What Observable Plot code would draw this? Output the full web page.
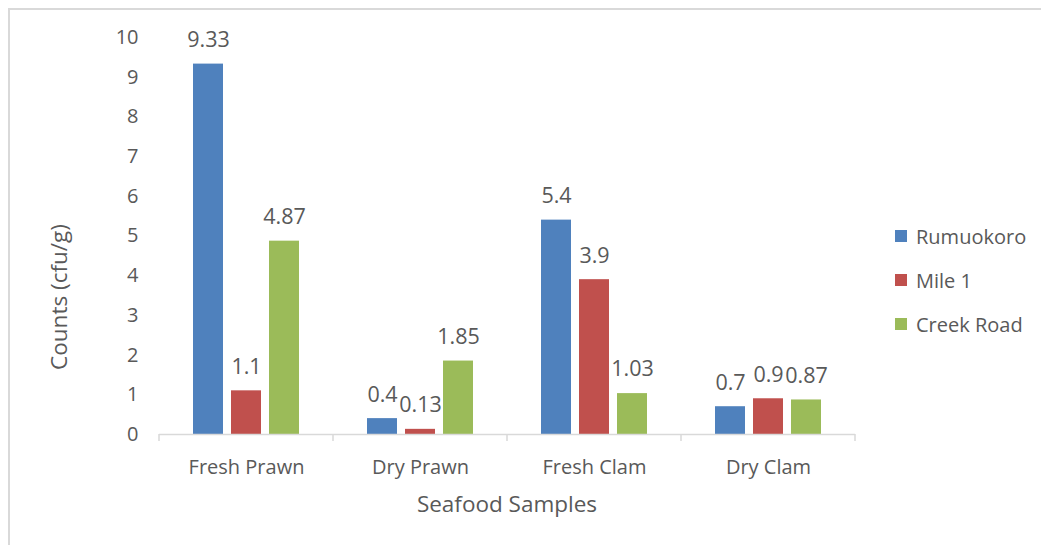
<!DOCTYPE html>
<html>
<head>
<meta charset="utf-8">
<script src="https://cdn.jsdelivr.net/npm/d3@7"></script>
<script src="https://cdn.jsdelivr.net/npm/@observablehq/plot@0.6"></script>
<style>
  html, body { margin: 0; padding: 0; background: #fff; }
  #wrap { position: relative; width: 1041px; height: 545px; overflow: hidden; font-family: "Open Sans", sans-serif; color: #595959; }
  #border { position: absolute; left: 8px; top: 8px; width: 1200px; height: 700px; border-top: 2px solid #d9d9d9; border-left: 2px solid #d9d9d9; }
  #chart { position: absolute; left: 0; top: 0; }
  .ttl { position: absolute; font-size: 22.5px; color: #595959; white-space: nowrap; }
  #legend { position: absolute; left: 895px; top: 214px; font-size: 20px; }
  #legend .row { display: flex; align-items: center; height: 44px; margin-top: 0; }
  #legend .sw { width: 12px; height: 12px; margin-right: 9px; }
</style>
</head>
<body>
<div id="wrap">
  <div id="border"></div>
  <div id="chart"></div>
  <div id="xtitle" class="ttl">Seafood Samples</div>
  <div id="ytitle" class="ttl">Counts (cfu/g)</div>
  <div id="legend"></div>
</div>
<script>
const groups = ["Fresh Prawn", "Dry Prawn", "Fresh Clam", "Dry Clam"];
const series = ["Rumuokoro", "Mile 1", "Creek Road"];
const colors = ["#4F81BD", "#C0504D", "#9BBB59"];
const rumuokoro = [9.33, 0.4, 5.4, 0.7];
const mile1 = [1.1, 0.13, 3.9, 0.9];
const creekRoad = [4.87, 1.85, 1.03, 0.87];
const yTicks = [0, 1, 2, 3, 4, 5, 6, 7, 8, 9, 10];

const valuesBySeries = [rumuokoro, mile1, creekRoad];
const data = [];
groups.forEach((g, gi) => {
  series.forEach((s, si) => {
    data.push({group: g, series: s, value: valuesBySeries[si][gi]});
  });
});

const W = 1041, H = 545;
const plot = Plot.plot({
  width: W,
  height: H,
  marginLeft: 159,
  marginRight: 186,
  marginTop: 37,
  marginBottom: 111,
  style: {fontFamily: "'Open Sans', sans-serif", fontSize: "20px", color: "#595959", background: "transparent"},
  fx: {domain: groups, padding: 0, label: null},
  x: {domain: series, paddingInner: 0.22, paddingOuter: 0.88, axis: null},
  y: {domain: [0, 10], label: null},
  color: {domain: series, range: colors},
  marks: [
    Plot.axisY({ticks: yTicks, tickSize: 0, tickPadding: 21, tickFormat: d => String(d), label: null, fill: "#595959", fontSize: 20}),
    Plot.axisFx({anchor: "bottom", tickSize: 0, tickPadding: 25, label: null, fill: "#595959", fontSize: 20}),
    Plot.barY(data, {fx: "group", x: "series", y: "value", fill: "series"}),
    Plot.ruleY([0], {stroke: "#d9d9d9", strokeWidth: 1.5}),
    Plot.text(data, {fx: "group", x: "series", y: "value", text: d => String(d.value), dy: -24, lineAnchor: "middle", fill: "#595959", fontSize: 21.5})
  ]
});
document.getElementById("chart").appendChild(plot);

// boundary tick marks on the x axis, derived from the fx and y scales
const fx = plot.scale("fx");
const ys = plot.scale("y");
const band = d3.scaleBand().domain(fx.domain).range(fx.range).paddingInner(0).paddingOuter(0);
const y0 = ys.range[0] + (ys.range[1] - ys.range[0]) * (0 - ys.domain[0]) / (ys.domain[1] - ys.domain[0]);
const bounds = fx.domain.map(d => band(d)).concat([band(fx.domain[fx.domain.length - 1]) + band.bandwidth()]);
d3.select(plot).append("g")
  .selectAll("line").data(bounds).join("line")
  .attr("x1", d => d).attr("x2", d => d)
  .attr("y1", y0).attr("y2", y0 + 7)
  .attr("stroke", "#d9d9d9").attr("stroke-width", 1.5);

// titles
const xt = document.getElementById("xtitle");
xt.style.left = ((fx.range[0] + fx.range[1]) / 2) + "px";
xt.style.top = "503px";
xt.style.transform = "translate(-50%, -50%)";
const yt = document.getElementById("ytitle");
yt.style.left = "58px";
yt.style.top = "297px";
yt.style.transform = "translate(-50%, -50%) rotate(-90deg)";

// legend
const lg = d3.select("#legend");
series.forEach((s, i) => {
  const row = lg.append("div").attr("class", "row");
  row.append("div").attr("class", "sw").style("background", colors[i]);
  row.append("span").text(s);
});
</script>
</body>
</html>
